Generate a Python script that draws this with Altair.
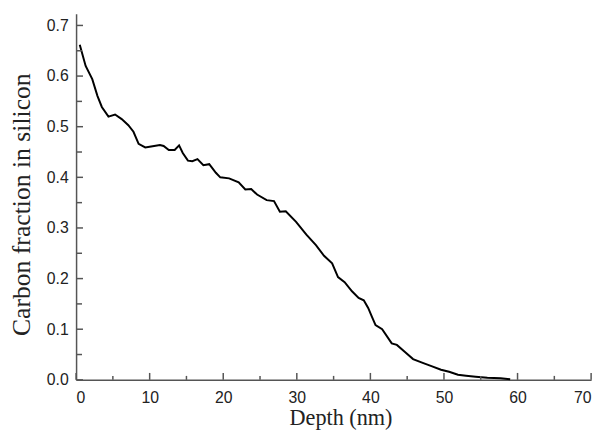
import altair as alt
import pandas as pd

depth = [0.5, 1.3, 2.2, 2.9, 3.5, 4.4, 5.3, 6.2, 7.1, 7.8, 8.5, 9.4, 10.2, 11.4, 11.9,
         12.6, 13.4, 14.0, 14.5, 15.2, 15.8, 16.5, 17.3, 18.1, 19.0, 19.6, 20.8, 22.1,
         23.0, 23.8, 24.6, 25.9, 26.9, 27.7, 28.5, 29.9, 31.3, 32.6, 33.7, 34.8, 35.6,
         36.5, 37.5, 38.4, 39.1, 39.7, 40.2, 40.7, 41.6, 42.9, 43.6, 44.7, 45.8, 47.2,
         48.3, 49.6, 50.7, 51.9, 53.0, 54.3, 55.9, 57.7, 59.0]
carbon = [0.662, 0.620, 0.594, 0.561, 0.539, 0.520, 0.524, 0.515, 0.503, 0.490, 0.466,
          0.459, 0.461, 0.464, 0.462, 0.454, 0.454, 0.463, 0.448, 0.433, 0.432, 0.436,
          0.424, 0.426, 0.409, 0.400, 0.398, 0.390, 0.376, 0.377, 0.366, 0.355, 0.353,
          0.332, 0.333, 0.312, 0.287, 0.266, 0.245, 0.230, 0.203, 0.193, 0.175, 0.162,
          0.157, 0.142, 0.125, 0.108, 0.100, 0.072, 0.069, 0.055, 0.041, 0.033, 0.027,
          0.020, 0.016, 0.010, 0.008, 0.006, 0.004, 0.003, 0.001]

x_major = [0, 10, 20, 30, 40, 50, 60, 70]
x_minor = [5, 15, 25, 35, 45, 55, 65]
y_major = [0.0, 0.1, 0.2, 0.3, 0.4, 0.5, 0.6, 0.7]
y_minor = [0.05, 0.15, 0.25, 0.35, 0.45, 0.55, 0.65]

W, H = 522, 371
AX = "#555555"
xs = alt.Scale(domain=[0, 70], nice=False, zero=False)
ys = alt.Scale(domain=[0, 0.723], nice=False, zero=False)

x_axis = alt.Axis(values=x_major, title="Depth (nm)", format="d",
                  titleX=268, titleY=45, titleAlign="center",
                  titleBaseline="alphabetic", titleFontSize=22.5)
y_axis = alt.Axis(values=y_major, title="Carbon fraction in silicon", format=".1f",
                  titleX=-55, titleY=193, titleAlign="center", titleBaseline="middle",
                  titleAngle=270, titleFontSize=26)

df = pd.DataFrame({"depth": depth, "carbon": carbon})

line = alt.Chart(df).mark_line(color="black", strokeWidth=2).encode(
    x=alt.X("depth:Q", scale=xs, axis=x_axis),
    y=alt.Y("carbon:Q", scale=ys, axis=y_axis),
)

xmaj = alt.Chart(pd.DataFrame({"v": x_major})).mark_rule(color=AX, strokeWidth=1.5).encode(
    x=alt.X("v:Q", scale=xs, axis=x_axis), y=alt.value(H), y2=alt.value(H - 7))
xmin = alt.Chart(pd.DataFrame({"v": x_minor})).mark_rule(color=AX, strokeWidth=1.5).encode(
    x=alt.X("v:Q", scale=xs, axis=x_axis), y=alt.value(H), y2=alt.value(H - 4))
ymaj = alt.Chart(pd.DataFrame({"v": y_major})).mark_rule(color=AX, strokeWidth=1.5).encode(
    y=alt.Y("v:Q", scale=ys, axis=y_axis), x=alt.value(0), x2=alt.value(7))
ymin = alt.Chart(pd.DataFrame({"v": y_minor})).mark_rule(color=AX, strokeWidth=1.5).encode(
    y=alt.Y("v:Q", scale=ys, axis=y_axis), x=alt.value(0), x2=alt.value(6))

chart = alt.layer(line, xmaj, xmin, ymaj, ymin).properties(
    width=W, height=H,
    autosize=alt.AutoSizeParams(type="none"),
    padding={"left": 69, "top": 3, "right": 9, "bottom": 51},
).configure_view(stroke=None).configure_axis(
    grid=False, ticks=False, domainColor=AX, domainWidth=1.5,
    labelFont="Liberation Sans", labelFontSize=16, labelColor="#222222",
    labelPadding=10,
    titleFont="Liberation Serif", titleFontWeight="normal",
    titleColor="#222222",
).configure_axisY(labelPadding=8)

chart.save("out.html", embed_options={"renderer": "svg", "actions": False})
